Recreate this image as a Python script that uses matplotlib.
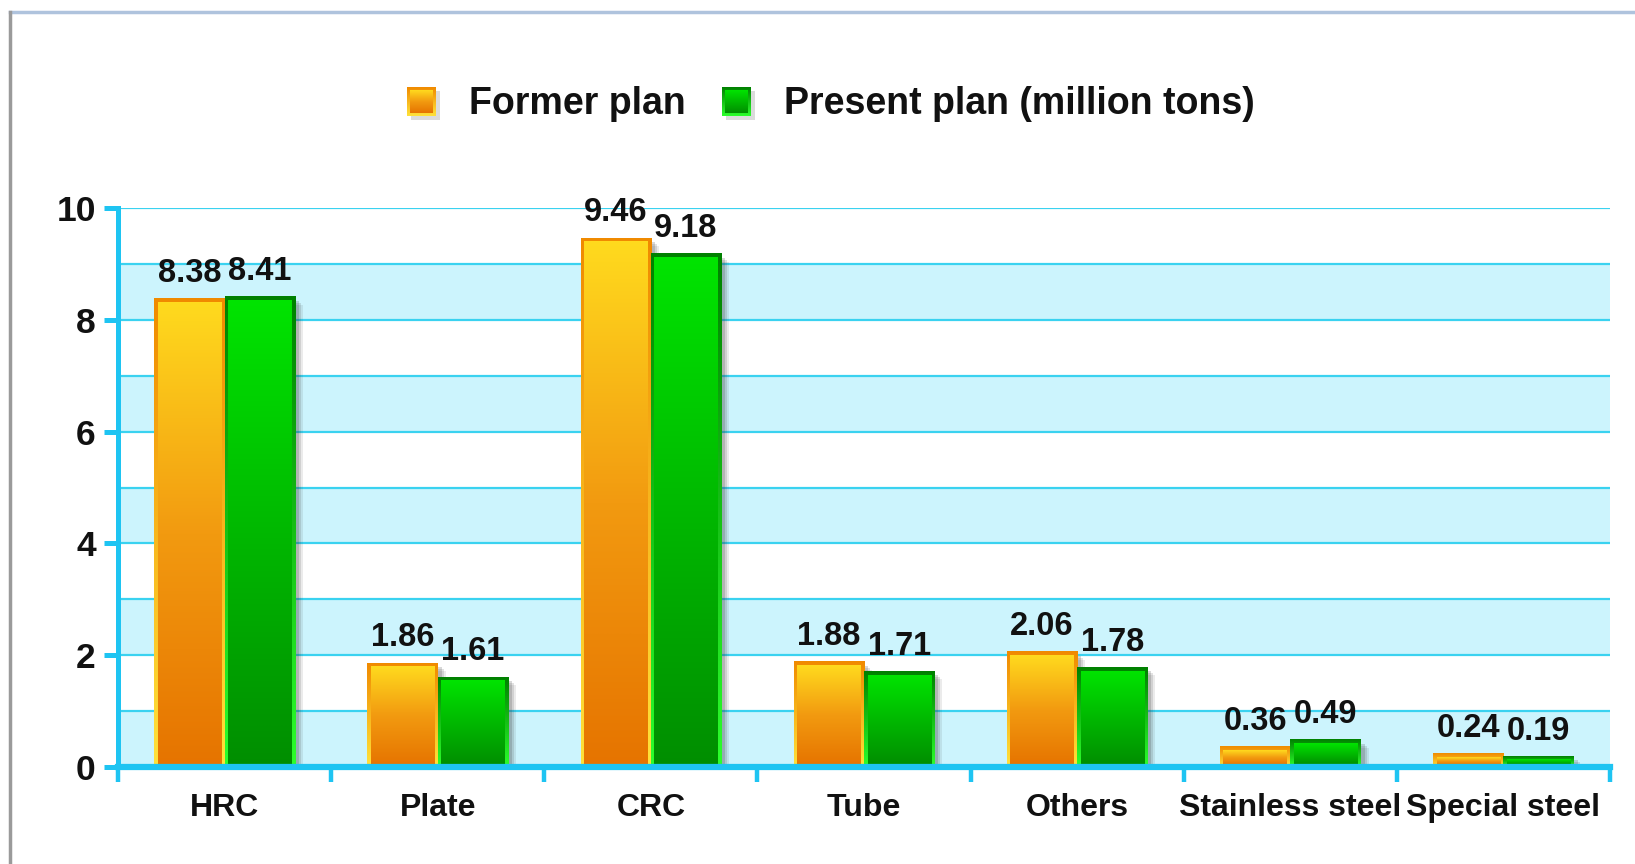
import numpy as np
import matplotlib
matplotlib.use("Agg")
import matplotlib.pyplot as plt
from matplotlib.colors import LinearSegmentedColormap
from matplotlib.patches import Rectangle
from matplotlib.lines import Line2D

plt.rcParams['font.family'] = ['Liberation Sans', 'DejaVu Sans']
plt.rcParams['font.weight'] = 'bold'

categories = ["HRC", "Plate", "CRC", "Tube", "Others", "Stainless steel", "Special steel"]
former_plan = [8.38, 1.86, 9.46, 1.88, 2.06, 0.36, 0.24]
present_plan = [8.41, 1.61, 9.18, 1.71, 1.78, 0.49, 0.19]
series_names = ["Former plan", "Present plan (million tons)"]
y_ticks = [0, 2, 4, 6, 8, 10]

W, H, DPI = 1635, 864, 100
fig = plt.figure(figsize=(W / DPI, H / DPI), dpi=DPI, facecolor="white")

ax_left, ax_right, ax_bottom, ax_top = 118, 1610, 767, 208
ax = fig.add_axes([ax_left / W, 1 - ax_bottom / H,
                   (ax_right - ax_left) / W, (ax_bottom - ax_top) / H])
ax.set_facecolor("white")

# colour ramps (bottom -> top)
orange_fill = LinearSegmentedColormap.from_list("of", ["#E67400", "#F29A10", "#FFDA1E"])
orange_edge = LinearSegmentedColormap.from_list("oe", ["#FFE23A", "#F08A00"])
green_fill = LinearSegmentedColormap.from_list("gf", ["#008E00", "#00B800", "#00E400"])
green_edge = LinearSegmentedColormap.from_list("ge", ["#2CFF2C", "#008000"])
ramp = np.linspace(0, 1, 256).reshape(-1, 1)

n = len(categories)
x = np.arange(n)
bar_w = 0.33
px_x = (ax_right - ax_left) / n          # pixels per category unit
px_y = (ax_bottom - ax_top) / 10.0       # pixels per value unit
edge_x = 3.5 / px_x
edge_y = 3.5 / px_y

# alternating bands and grid
for lo in range(0, 10, 2):
    ax.axhspan(lo, lo + 1, color="#CCF4FD", zorder=0, lw=0)
for v in range(1, 11):
    ax.axhline(v, color="#3AD2F0", lw=1.6, zorder=1)


def gradient_bar(x0, h, fill_cmap, edge_cmap):
    # soft drop shadow to the right
    for k, a in zip([8, 6, 4], [0.10, 0.15, 0.20]):
        ax.add_patch(Rectangle((x0 + k / px_x, 0), bar_w, max(h - k / px_y, 0),
                               facecolor="#404040", alpha=a, lw=0, zorder=2))
    ax.imshow(ramp, cmap=edge_cmap, origin="lower", aspect="auto",
              extent=(x0, x0 + bar_w, 0, h), zorder=3, interpolation="bilinear")
    inner_top = max(h - edge_y, 0.001)
    ax.imshow(ramp, cmap=fill_cmap, origin="lower", aspect="auto",
              extent=(x0 + edge_x, x0 + bar_w - edge_x, edge_y * 0.6, inner_top),
              zorder=4, interpolation="bilinear")


for i in range(n):
    gradient_bar(x[i] - bar_w, former_plan[i], orange_fill, orange_edge)
    gradient_bar(x[i], present_plan[i], green_fill, green_edge)
    ax.annotate(f"{former_plan[i]:.2f}", (x[i] - bar_w / 2, former_plan[i]),
                xytext=(0, 7), textcoords="offset points", ha="center", va="bottom",
                fontsize=23.5, fontweight="bold", color="#111111", zorder=6)
    ax.annotate(f"{present_plan[i]:.2f}", (x[i] + bar_w / 2, present_plan[i]),
                xytext=(0, 7), textcoords="offset points", ha="center", va="bottom",
                fontsize=23.5, fontweight="bold", color="#111111", zorder=6)

ax.set_xlim(-0.5, n - 0.5)
ax.set_ylim(0, 10)

for s in ["top", "right"]:
    ax.spines[s].set_visible(False)
ax.spines["left"].set_color("#1EC4F2")
ax.spines["left"].set_linewidth(3.6)
ax.spines["bottom"].set_color("#1EC4F2")
ax.spines["bottom"].set_linewidth(4.5)
ax.spines["left"].set_zorder(7)
ax.spines["bottom"].set_zorder(7)

ax.set_yticks(y_ticks)
ax.set_yticklabels([str(t) for t in y_ticks], fontsize=25.5, fontweight="bold", color="#111111")
ax.tick_params(axis="y", which="major", direction="out", length=10, width=3.6,
               color="#1EC4F2", pad=6)

ax.set_xticks(np.arange(-0.5, n, 1.0))
ax.set_xticklabels([])
ax.tick_params(axis="x", which="major", direction="out", length=11, width=3.2,
               color="#1EC4F2")
ax.set_xticks(x, minor=True)
ax.set_xticklabels(categories, minor=True, fontsize=23, fontweight="bold", color="#111111")
ax.tick_params(axis="x", which="minor", length=0, pad=19)

# legend row with gradient swatches
def swatch(x0, y0, size, fill_cmap, edge_cmap):
    sax = fig.add_axes([(x0 + 4) / W, 1 - (y0 + size + 4) / H, size / W, size / H])
    sax.set_axis_off()
    sax.add_patch(Rectangle((0, 0), 1, 1, transform=sax.transAxes, facecolor="#888888",
                            alpha=0.3, lw=0, zorder=0))
    fax = fig.add_axes([x0 / W, 1 - (y0 + size) / H, size / W, size / H])
    fax.set_axis_off()
    fax.imshow(ramp, cmap=edge_cmap, origin="lower", aspect="auto", extent=(0, 1, 0, 1))
    fax.imshow(ramp, cmap=fill_cmap, origin="lower", aspect="auto",
               extent=(0.12, 0.88, 0.12, 0.88))
    fax.set_xlim(0, 1)
    fax.set_ylim(0, 1)


swatch(407, 87, 29, orange_fill, orange_edge)
swatch(722, 87, 29, green_fill, green_edge)
fig.text(469 / W, 1 - 104 / H, series_names[0], fontsize=27, fontweight="bold",
         color="#111111", ha="left", va="center")
fig.text(784 / W, 1 - 104 / H, series_names[1], fontsize=27, fontweight="bold",
         color="#111111", ha="left", va="center")

# outer frame lines
fig.add_artist(Line2D([10 / W, 1], [1 - 12 / H, 1 - 12 / H], color="#AFC3DD", lw=2.5,
                      transform=fig.transFigure))
fig.add_artist(Line2D([10 / W, 10 / W], [0, 1 - 12 / H], color="#9A9A9A", lw=2.5,
                      transform=fig.transFigure))

fig.savefig("out.png", dpi=DPI, facecolor="white")
